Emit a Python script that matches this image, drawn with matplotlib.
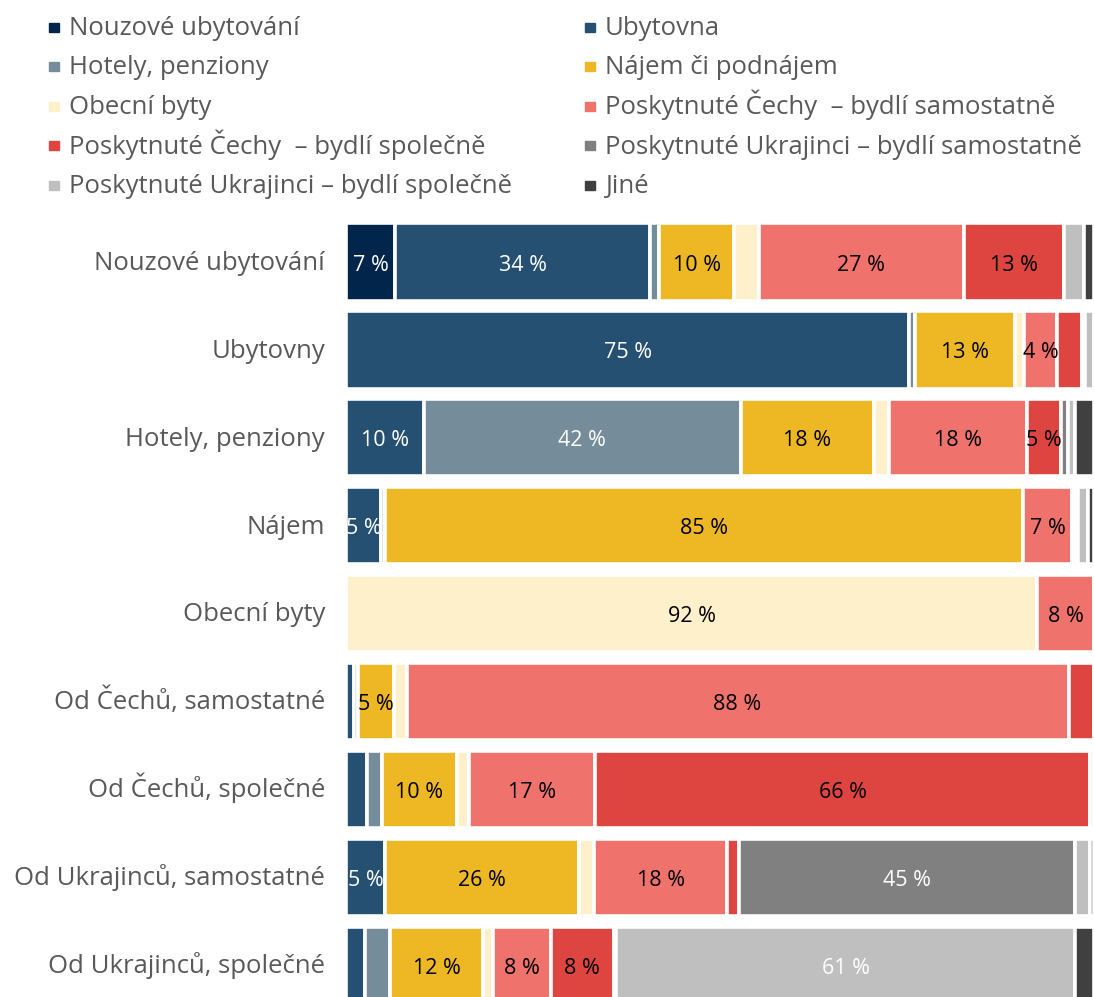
import numpy as np
import matplotlib
matplotlib.use("Agg")
import matplotlib.pyplot as plt
from matplotlib.patches import Rectangle

plt.rcParams['font.family'] = ['Open Sans', 'DejaVu Sans']

# Data (shares in %)
rows = ["Nouzové ubytování", "Ubytovny", "Hotely, penziony", "Nájem", "Obecní byty",
        "Od Čechů, samostatné", "Od Čechů, společné", "Od Ukrajinců, samostatné",
        "Od Ukrajinců, společné"]

categories = ["Nouzové ubytování", "Ubytovna", "Hotely, penziony", "Nájem či podnájem",
              "Obecní byty", "Poskytnuté Čechy  – bydlí samostatně",
              "Poskytnuté Čechy  – bydlí společně", "Poskytnuté Ukrajinci – bydlí samostatně",
              "Poskytnuté Ukrajinci – bydlí společně", "Jiné"]

nouzove = [6.6, 0, 0, 0, 0, 0, 0, 0, 0]
ubytovna = [34.0, 75.3, 10.4, 4.7, 0, 1.1, 2.8, 5.2, 2.5]
hotely = [1.3, 0.8, 42.4, 0.5, 0, 0.5, 2.0, 0, 3.4]
najem = [10.0, 13.4, 17.8, 85.3, 0, 4.8, 10.0, 25.9, 12.4]
obecni = [3.3, 1.2, 2.0, 0, 92.4, 1.7, 1.7, 2.1, 1.3]
cechy_sam = [27.4, 4.4, 18.4, 6.6, 7.6, 88.5, 16.8, 17.8, 7.8]
cechy_spol = [13.4, 3.3, 4.6, 0.4, 0, 3.4, 66.2, 1.5, 8.4]
ukr_sam = [0, 0.4, 0.9, 0.4, 0, 0, 0, 44.9, 0.3]
ukr_spol = [2.6, 1.2, 1.0, 1.3, 0, 0, 0.5, 2.0, 61.4]
jine = [1.4, 0, 2.5, 0.8, 0, 0, 0, 0.6, 2.5]

series = [nouzove, ubytovna, hotely, najem, obecni, cechy_sam, cechy_spol, ukr_sam, ukr_spol, jine]
colors = ['#01254B', '#255072', '#758C9B', '#EDB824', '#FFF0CC',
          '#EF736C', '#DE4540', '#808080', '#BFBFBF', '#404040']
label_colors = ['white', 'white', 'white', 'black', 'black',
                'black', 'black', 'white', 'white', 'white']

W, H = 1094, 997
fig = plt.figure(figsize=(W / 100, H / 100), dpi=100)
ax = fig.add_axes([346 / W, 0, 1 - 346 / W, (H - 218) / H])

y = np.arange(len(rows))
left = np.zeros(len(rows))
for vals, col, lc in zip(series, colors, label_colors):
    vals = np.array(vals)
    ax.barh(y, vals, left=left, height=0.88, color=col, edgecolor='white', linewidth=2.6)
    for yi, (l, v) in enumerate(zip(left, vals)):
        if v >= 3.5:
            ax.text(l + v / 2, yi + 0.035, f"{round(v)} %", ha='center', va='center',
                    fontsize=15.5, color=lc)
    left += vals

ax.set_xlim(0, 100)
ax.set_ylim(8.362, -0.5)
ax.set_yticks([])
ax.set_xticks([])
for s in ax.spines.values():
    s.set_visible(False)

# row labels, placed by baseline so accents do not shift them
for yi, name in enumerate(rows):
    ax.text(-21 / 748, yi + 0.09, name, transform=ax.get_yaxis_transform(),
            ha='right', va='baseline', fontsize=18.5, color='#595959')

# Legend, two columns
for k, (cat, col) in enumerate(zip(categories, colors)):
    cx = 49 if k % 2 == 0 else 585
    base = 35 + 39.5 * (k // 2)
    fig.add_artist(Rectangle((cx / W, 1 - (base - 3) / H), 10 / W, 9 / H,
                             transform=fig.transFigure, color=col))
    fig.text((cx + 20) / W, 1 - base / H, cat, fontsize=18.5, color='#595959',
             va='baseline', ha='left')

fig.savefig("out.png", dpi=100)
